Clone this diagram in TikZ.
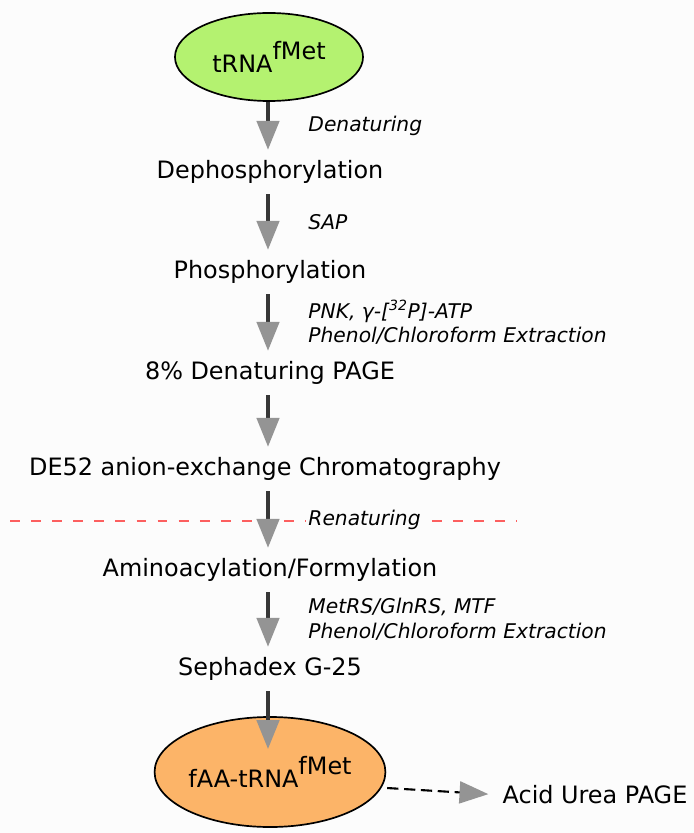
\documentclass[tikz,border=0pt]{standalone}
\usepackage{fontspec}
\setmainfont{DejaVu Sans}
\usetikzlibrary{arrows.meta,shapes.geometric}
\definecolor{bgpaper}{RGB}{252,252,252}
\definecolor{startgreen}{RGB}{180,242,112}
\definecolor{endorange}{RGB}{252,180,104}
\definecolor{shaftgray}{RGB}{55,55,55}
\definecolor{headgray}{RGB}{148,148,148}
\definecolor{cutred}{RGB}{252,95,95}
\tikzset{
  stepnode/.style={inner sep=0pt, minimum height=1.1cm, font=\fontsize{17}{20}\selectfont},
  endnode/.style={draw, ellipse, line width=1.2pt, inner sep=0pt, font=\fontsize{17}{20}\selectfont},
  flow/.style={draw=shaftgray, line width=2.3pt, -{Triangle[color=headgray, length=0.72cm, width=0.56cm]}},
  cond/.style={midway, right, xshift=0.9cm, align=left, font=\fontsize{14.4}{17.5}\selectfont\itshape},
}
\newcommand{\fmet}{\raisebox{0.55em}{fMet}}
\begin{document}
\begin{tikzpicture}[x=0.025cm, y=-0.025cm]
			\fill[bgpaper] (0,0) rectangle (694,833);
			\useasboundingbox (0,0) rectangle (694,833);
			\node[endnode, fill=startgreen, minimum width=4.7cm, minimum height=2.2cm] (v0) at (269, 57) {tRNA\fmet};
			\node[stepnode] (v1) at (270, 172) {Dephosphorylation};
			\node[stepnode] (v2) at (270, 272) {Phosphorylation};
			\node[stepnode] (v3) at (270, 373) {8\% Denaturing PAGE};
			\node[stepnode] (v4) at (265, 469) {DE52 anion-exchange Chromatography};
			\node[stepnode] (v5) at (270, 570) {Aminoacylation/Formylation};
			\node[stepnode] (v6) at (270, 669) {Sephadex G-25};
			\node[endnode, fill=endorange, minimum width=5.65cm, minimum height=2.75cm] (v7) at (270, 772) {fAA-tRNA\fmet};
			\node[stepnode] (v8) at (595, 795) {Acid Urea PAGE};
			\coordinate (axis) at (268, 0);
			\coordinate (cutL) at (10, 521);
			\coordinate (cutR) at (517, 521);

			% renaturing boundary
			\draw[cutred, line width=1.4pt, dash pattern=on 7pt off 8pt] (cutL) -- (cutR);

			\def\steps {v0/v1/{Denaturing}, v1/v2/{SAP},
			v2/v3/{PNK, γ-[\textsuperscript{32}P]-ATP\\Phenol/Chloroform Extraction},
			v3/v4/{}, v4/v5/{Renaturing},
			v5/v6/{MetRS/GlnRS, MTF\\Phenol/Chloroform Extraction}}  % list elements
			\foreach \u\v\what in \steps
			{	\draw[flow] (\u.south -| axis) -- (\v.north -| axis) node [cond, fill=bgpaper, inner sep=2pt] {\what};
			}
			\draw[flow, shorten >=-0.82cm] (v6.south -| axis) -- (v7.north -| axis);
			\draw[black, line width=1.5pt, dash pattern=on 8pt off 4pt, -{Triangle[color=headgray, length=0.72cm, width=0.55cm]}, shorten <=4pt, shorten >=10pt] (v7.-8) -- (v8.west);
		\end{tikzpicture}
\end{document}
